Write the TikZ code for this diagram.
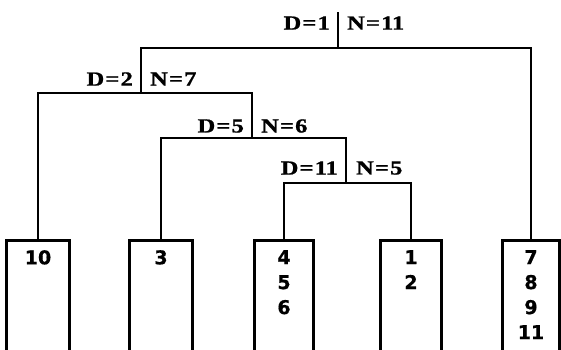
\documentclass[tikz,border=0pt]{standalone}
\usepackage{fontspec}
\setmainfont{Liberation Serif}
\newfontfamily\lblfont[FakeBold=1]{Liberation Serif Bold}
\newfontfamily\digitfont[FakeBold=0.6]{DejaVu Sans Bold}
\newcommand{\eqlbl}[2]{\scalebox{1.22}[1]{#1\kern1pt=\kern1pt#2}}
\begin{document}
\begin{tikzpicture}[x=1pt,y=-1pt,
  tree/.style={line width=2.6pt},
  boxline/.style={line width=3pt},
  lbl/.style={font=\lblfont\fontsize{20}{20}\selectfont, inner sep=0pt},
  leaf/.style={anchor=north, inner xsep=0pt, inner ysep=10pt, minimum width=#1,
    align=center, font=\digitfont\fontsize{19}{25}\selectfont}]
\useasboundingbox (0,0) rectangle (561,349);
% leaves
\node[leaf=62pt] (b1) at (38,240) {10};
\node[leaf=62pt] (b2) at (161,240) {3};
\node[leaf=59pt] (b3) at (284,240) {4\\5\\6};
\node[leaf=60pt] (b4) at (411,240) {1\\2};
\node[leaf=56pt] (b5) at (531,240) {7\\8\\9\\11};
\foreach \b in {b1,b2,b3,b4,b5}{
  \draw[boxline] (\b.north west) ++(0,112) -- (\b.north west) -- (\b.north east) -- ++(0,112);
}
% internal junctions
\coordinate (rt) at (338,12);
\coordinate (n1) at (338,48);
\coordinate (n2) at (141,93);
\coordinate (n3) at (252,138);
\coordinate (n4) at (346,183);
% connectors
\draw[tree] (rt) -- (n1);
\draw[tree] (n2) |- (n1) -| (b5.north);
\draw[tree] (b1.north) |- (n2) -| (n3);
\draw[tree] (b2.north) |- (n3) -| (n4);
\draw[tree] (b3.north) |- (n4) -| (b4.north);
% labels
\node[lbl, anchor=east] (d1) at (330,23) {\eqlbl{D}{1}};
\node[lbl, anchor=west] (m1) at (347,23) {\eqlbl{N}{11}};
\node[lbl, anchor=east] (d2) at (133,79) {\eqlbl{D}{2}};
\node[lbl, anchor=west] (m2) at (150,79) {\eqlbl{N}{7}};
\node[lbl, anchor=east] (d3) at (244,126) {\eqlbl{D}{5}};
\node[lbl, anchor=west] (m3) at (261,126) {\eqlbl{N}{6}};
\node[lbl, anchor=east] (d4) at (338,168) {\eqlbl{D}{11}};
\node[lbl, anchor=west] (m4) at (356,168) {\eqlbl{N}{5}};
\end{tikzpicture}
\end{document}
